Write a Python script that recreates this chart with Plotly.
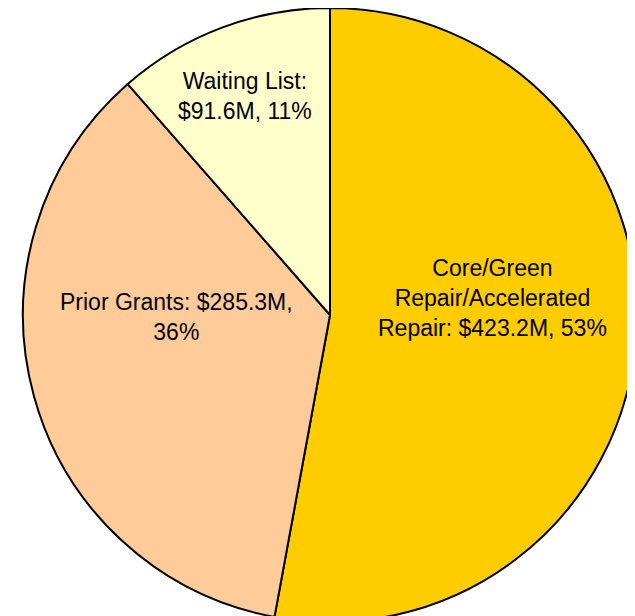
import plotly.graph_objects as go

# Funding split ($M), listed clockwise from 12 o'clock
labels = ["Core/Green Repair/Accelerated Repair", "Prior Grants", "Waiting List"]
values = [423.2, 285.3, 91.6]
colors = ["#FFCC00", "#FFCC99", "#FFFFCC"]

# manual label text layout (line breaks as in the original)
label_text = ["Core/Green<br>Repair/Accelerated<br>Repair:", "Prior Grants:", "Waiting List:"]
label_sep = [" ", " ", "<br>"]
pct_sep = [", ", ",<br>", ", "]

W, H = 629, 614
R = 307
cx, cy = 322, 307  # pie centre in figure pixels

total = sum(values)

fig = go.Figure(
    go.Pie(
        labels=labels,
        values=values,
        sort=False,
        direction="clockwise",
        rotation=0,
        marker=dict(colors=colors, line=dict(color="black", width=2)),
        textinfo="none",
        hoverinfo="label+value+percent",
        showlegend=False,
        domain=dict(
            x=[(cx - R) / W, (cx + R) / W],
            y=[1 - (cy + R) / H, 1 - (cy - R) / H],
        ),
    )
)

# label centres (figure pixels)
label_pos = [(484, 290), (168, 309), (237, 88)]

for txt, sep, psep, v, (px, py) in zip(label_text, label_sep, pct_sep, values, label_pos):
    pct = round(v / total * 100)
    fig.add_annotation(
        x=px / W,
        y=1 - py / H,
        xref="paper",
        yref="paper",
        xanchor="center",
        yanchor="middle",
        text=f"{txt}{sep}${v}M{psep}{pct}%",
        showarrow=False,
        align="center",
        font=dict(family="Liberation Sans, Arial", size=23, color="black"),
    )

fig.update_layout(
    width=W,
    height=H,
    margin=dict(l=0, r=0, t=0, b=0),
    paper_bgcolor="white",
    plot_bgcolor="white",
)

fig.write_html("out.html")
